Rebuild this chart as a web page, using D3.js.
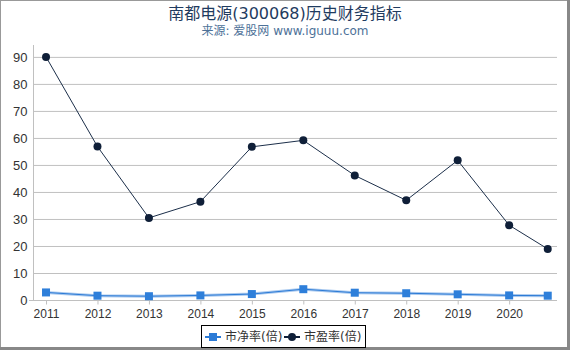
<!DOCTYPE html>
<html>
<head>
<meta charset="utf-8">
<script src="https://cdn.jsdelivr.net/npm/d3@7"></script>
<style>
  body { margin: 0; background: #fff; }
  svg { display: block; font-family: "DejaVu Sans", "Noto Sans CJK SC", sans-serif; }
</style>
</head>
<body>
<svg id="chart"></svg>
<script>
// year positions (last point is a partial year)
const years = [2011, 2012, 2013, 2014, 2015, 2016, 2017, 2018, 2019, 2020, 2020.75];
const tickYears = [2011, 2012, 2013, 2014, 2015, 2016, 2017, 2018, 2019, 2020];
const pb = [2.8, 1.6, 1.4, 1.7, 2.2, 4.0, 2.7, 2.5, 2.1, 1.7, 1.6];
const pe = [90, 56.8, 30.4, 36.4, 56.7, 59.1, 46.1, 36.9, 51.7, 27.7, 18.9];
const yTicks = [0, 10, 20, 30, 40, 50, 60, 70, 80, 90];

const width = 570, height = 350;
const margin = { top: 45, right: 13, bottom: 50, left: 33 };

const svg = d3.select("#chart").attr("width", width).attr("height", height);

// frame with shadow on right / bottom
svg.append("rect").attr("x", 0.5).attr("y", 0.5).attr("width", width - 3).attr("height", height - 3)
  .attr("fill", "#fff").attr("stroke", "#999");
svg.append("rect").attr("x", width - 3).attr("y", 0).attr("width", 3).attr("height", height).attr("fill", "#888");
svg.append("rect").attr("x", 0).attr("y", height - 3).attr("width", width).attr("height", 3).attr("fill", "#888");

svg.append("text")
  .attr("x", width / 2).attr("y", 19)
  .attr("text-anchor", "middle")
  .style("font-size", "16px").style("fill", "#1f3b60")
  .text("南都电源(300068)历史财务指标");
svg.append("text")
  .attr("x", width / 2).attr("y", 35)
  .attr("text-anchor", "middle")
  .style("font-size", "12px").style("fill", "#4d7198")
  .text("来源: 爱股网 www.iguuu.com");

const x = d3.scaleLinear().domain([2010.747, 2020.93]).range([margin.left, width - margin.right]);
const y = d3.scaleLinear().domain([0, 94.4]).range([height - margin.bottom, margin.top]);

// gridlines
svg.append("g").selectAll("line")
  .data(yTicks.slice(1))
  .join("line")
  .attr("x1", x.range()[0]).attr("x2", x.range()[1])
  .attr("y1", d => y(d) + 0.5).attr("y2", d => y(d) + 0.5)
  .attr("stroke", "#c0c0c0");

// y axis
const yAxis = svg.append("g")
  .attr("transform", `translate(${margin.left + 0.5},0)`)
  .call(d3.axisLeft(y).tickValues(yTicks).tickSize(0).tickPadding(6));
yAxis.select(".domain").attr("stroke", "#c0c0c0").attr("d", `M0,${y.range()[1]}V${y.range()[0]}`);
yAxis.selectAll("text").style("font-size", "13px").style("fill", "#333").style("font-family", null);

// x axis
const xAxis = svg.append("g")
  .attr("transform", `translate(0,${y(0) + 0.5})`)
  .call(d3.axisBottom(x).tickValues(tickYears).tickFormat(d3.format("d")).tickSize(4).tickPadding(5));
xAxis.select(".domain").attr("stroke", "#c0c0c0").attr("d", `M${margin.left - 4},0H${x.range()[1]}`);
xAxis.selectAll(".tick line").attr("stroke", "#c0c0c0");
xAxis.selectAll("text").style("font-size", "12px").style("fill", "#333").style("font-family", null);

const pbData = years.map((d, i) => ({ x: d, v: pb[i] }));
const peData = years.map((d, i) => ({ x: d, v: pe[i] }));
const line = d3.line().x(d => x(d.x)).y(d => y(d.v));

// PB series
svg.append("path").datum(pbData).attr("d", line)
  .attr("fill", "none").attr("stroke", "#a9c9ef").attr("stroke-width", 3);
svg.append("path").datum(pbData).attr("d", line)
  .attr("fill", "none").attr("stroke", "#2c7bd6").attr("stroke-width", 1);
svg.append("g").selectAll("rect")
  .data(pbData)
  .join("rect")
  .attr("x", d => x(d.x) - 4).attr("y", d => y(d.v) - 4)
  .attr("width", 8).attr("height", 8)
  .attr("fill", "#2e7fda");

// PE series
svg.append("path").datum(peData).attr("d", line)
  .attr("fill", "none").attr("stroke", "#1c2f4a").attr("stroke-width", 1);
svg.append("g").selectAll("circle")
  .data(peData)
  .join("circle")
  .attr("cx", d => x(d.x)).attr("cy", d => y(d.v))
  .attr("r", 4)
  .attr("fill", "#0f1f38");

// legend
const legend = svg.append("g");
legend.append("rect")
  .attr("x", 201.5).attr("y", 325.5).attr("width", 164).attr("height", 22)
  .attr("fill", "#fff").attr("stroke", "#000");
const items = [
  { label: "市净率(倍)", color: "#2c7bd6", x: 205, shape: "rect" },
  { label: "市盈率(倍)", color: "#0f1f38", x: 284, shape: "circle" }
];
items.forEach(it => {
  const g = legend.append("g");
  g.append("line").attr("x1", it.x).attr("x2", it.x + 16).attr("y1", 337).attr("y2", 337)
    .attr("stroke", it.color).attr("stroke-width", 2);
  if (it.shape === "rect") {
    g.append("rect").attr("x", it.x + 4).attr("y", 333).attr("width", 8).attr("height", 8).attr("fill", it.color);
  } else {
    g.append("circle").attr("cx", it.x + 8).attr("cy", 337).attr("r", 4).attr("fill", it.color);
  }
  g.append("text").attr("x", it.x + 20).attr("y", 341)
    .style("font-size", "12px").style("fill", "#333").text(it.label);
});
</script>
</body>
</html>
